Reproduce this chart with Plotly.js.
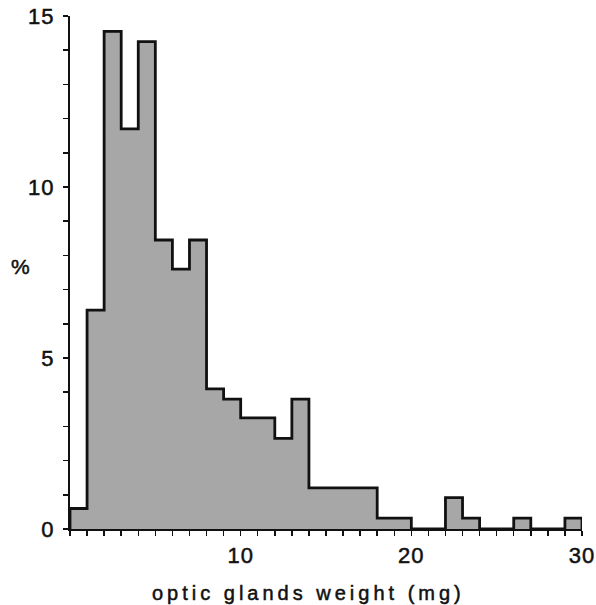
<!DOCTYPE html>
<html>
<head>
<meta charset="utf-8">
<script src="https://cdn.plot.ly/plotly-3.0.1.min.js"></script>
<style>
html, body { margin: 0; padding: 0; background: #fff; }
#chart { width: 596px; height: 605px; }
.xtick text, .ytick text { letter-spacing: 1px; stroke: #111; stroke-width: 0.5px; }
g.annotation text { stroke: #111; stroke-width: 0.5px; }
g.annotation[data-index="0"] text { letter-spacing: 4px; }
</style>
</head>
<body>
<div id="chart"></div>
<script>
// bin left edges (mg), width 1
const binStarts = [0,1,2,3,4,5,6,7,8,9,10,11,12,13,14,15,16,17,18,19,20,21,22,23,24,25,26,27,28,29];
// percentage in each bin
const percents = [0.6,6.4,14.55,11.7,14.25,8.45,7.6,8.45,4.1,3.8,3.25,3.25,2.65,3.8,1.2,1.2,1.2,1.2,0.32,0.32,0,0,0.92,0.32,0,0,0.32,0,0,0.32];
const binWidth = 1;
const xTitle = 'optic glands weight (mg)';
const yTitle = '%';

// outline of the histogram (step line) from the same data
const stepX = [binStarts[0]];
const stepY = [0];
binStarts.forEach((b, i) => { stepX.push(b); stepY.push(percents[i]); });
stepX.push(binStarts[binStarts.length - 1] + binWidth);
stepY.push(0);

const bars = {
  type: 'bar',
  x: binStarts.map(b => b + binWidth / 2),
  y: percents,
  width: binWidth,
  marker: {
    color: '#b3b3b3',
    line: { width: 0 },
    pattern: { shape: '.', fgcolor: '#8c8c8c', bgcolor: '#bcbcbc', size: 2, solidity: 0.5 }
  },
  hoverinfo: 'skip'
};

const outline = {
  type: 'scatter',
  mode: 'lines',
  x: stepX,
  y: stepY,
  line: { shape: 'hv', color: '#111', width: 2.8 },
  hoverinfo: 'skip'
};

const font = { family: '"Liberation Sans", Arial, sans-serif', color: '#111' };

const layout = {
  width: 596, height: 605,
  margin: { l: 70, r: 14, t: 16, b: 76 },
  paper_bgcolor: '#fff', plot_bgcolor: '#fff',
  showlegend: false,
  bargap: 0,
  font: Object.assign({ size: 22 }, font),
  xaxis: {
    range: [0, 30],
    tickvals: [10, 20, 30],
    ticks: 'outside', ticklen: 5, tickwidth: 1.5, tickcolor: '#111',
    minor: { dtick: 1, tick0: 0, ticks: 'outside', ticklen: 5, tickwidth: 1.5, tickcolor: '#111' },
    showline: true, linecolor: '#111', linewidth: 2,
    showgrid: false, zeroline: false,
    tickfont: Object.assign({ size: 22 }, font),
    ticklabelstandoff: 1
  },
  yaxis: {
    range: [0, 15],
    tickvals: [0, 5, 10, 15],
    ticks: 'outside', ticklen: 5, tickwidth: 1.5, tickcolor: '#111',
    minor: { dtick: 1, tick0: 0, ticks: 'outside', ticklen: 5, tickwidth: 1.5, tickcolor: '#111' },
    showline: true, linecolor: '#111', linewidth: 2,
    showgrid: false, zeroline: false,
    tickfont: Object.assign({ size: 22 }, font),
    ticklabelstandoff: 4
  },
  annotations: [
    { text: xTitle, xref: 'paper', yref: 'paper', x: (308 - 70) / 512, y: -0.125,
      xanchor: 'center', yanchor: 'middle', showarrow: false,
      font: Object.assign({ size: 20 }, font) },
    { text: yTitle, xref: 'paper', yref: 'paper', x: (20 - 70) / 512, y: (529 - 266) / 513,
      xanchor: 'center', yanchor: 'middle', showarrow: false,
      font: Object.assign({ size: 21 }, font) }
  ]
};

Plotly.newPlot('chart', [bars, outline], layout, { staticPlot: true, displayModeBar: false });
</script>
</body>
</html>
